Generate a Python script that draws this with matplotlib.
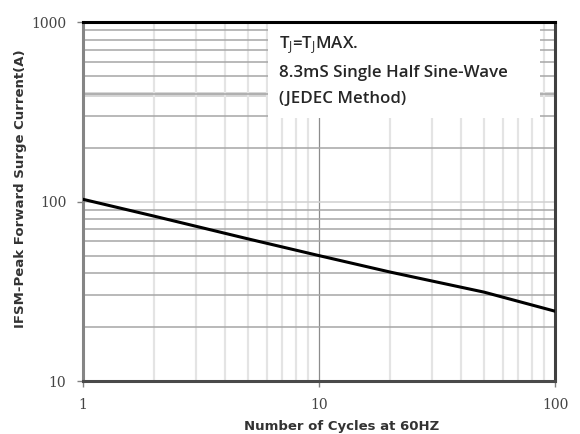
import matplotlib
matplotlib.use("Agg")
import matplotlib.pyplot as plt
from matplotlib.patches import Rectangle
from matplotlib.ticker import LogLocator, NullFormatter

cycles = [1, 2, 5, 10, 20, 50, 100]
current = [103, 83, 62, 50, 40.5, 31.3, 24.5]

x_ticks = [1, 10, 100]
x_tick_labels = ["1", "10", "100"]
y_ticks = [10, 100, 1000]
y_tick_labels = ["10", "100", "1000"]

annotation_lines = [r"T$_J$=T$_J$MAX.", "8.3mS Single Half Sine-Wave", "(JEDEC Method)"]
x_label = "Number of Cycles at 60HZ"
y_label = "IFSM-Peak Forward Surge Current(A)"

plt.rcParams["mathtext.fontset"] = "custom"
plt.rcParams["mathtext.rm"] = "Open Sans"
plt.rcParams["mathtext.it"] = "Open Sans"

fig = plt.figure(figsize=(5.8, 4.34), dpi=100)
ax = fig.add_axes([0.143, 0.122, 0.814, 0.827])
ax.set_xscale("log")
ax.set_yscale("log")
ax.set_xlim(1, 100)
ax.set_ylim(10, 1000)

# grid lines
ax.xaxis.set_minor_locator(LogLocator(base=10, subs=range(2, 10)))
ax.yaxis.set_minor_locator(LogLocator(base=10, subs=range(2, 10)))
ax.xaxis.set_minor_formatter(NullFormatter())
ax.yaxis.set_minor_formatter(NullFormatter())
ax.grid(True, which="minor", axis="x", color="#e4e4e4", linewidth=1.6, zorder=0)
ax.grid(True, which="major", axis="x", color="#8c8c8c", linewidth=0.9, zorder=0)
ax.grid(True, which="minor", axis="y", color="#a6a6a6", linewidth=1.1, zorder=0)
ax.grid(True, which="major", axis="y", color="#d0d0d0", linewidth=1.1, zorder=0)
ax.axhline(400, color="#d4d4d4", linewidth=3.5, zorder=0.5)
ax.set_axisbelow(True)

ax.plot(cycles, current, color="black", linewidth=2.2, zorder=3)

# annotation box covering grid
ax.add_patch(Rectangle((0.392, 0.733), 0.576, 0.262, transform=ax.transAxes,
                       facecolor="white", edgecolor="none", zorder=2))
ys = [0.936, 0.858, 0.786]
for t, yy in zip(annotation_lines, ys):
    ax.text(0.415, yy, t, transform=ax.transAxes, fontsize=12.2, family="Open Sans",
            fontweight="semibold", color="#262626", va="center", ha="left", zorder=4)

ax.set_xticks(x_ticks)
ax.set_xticklabels(x_tick_labels)
ax.set_yticks(y_ticks)
ax.set_yticklabels(y_tick_labels)
ax.tick_params(which="minor", length=0)
ax.tick_params(which="major", length=4, width=1, color="#808080", direction="out",
               labelsize=10, pad=8)
for lab in ax.get_xticklabels() + ax.get_yticklabels():
    lab.set_family("DejaVu Serif")
    lab.set_color("#444444")

ax.spines["left"].set_color("#858585")
ax.spines["left"].set_linewidth(2.2)
ax.spines["bottom"].set_color("#4a4a4a")
ax.spines["bottom"].set_linewidth(2.2)
ax.spines["top"].set_color("black")
ax.spines["top"].set_linewidth(2.2)
ax.spines["right"].set_color("#404040")
ax.spines["right"].set_linewidth(2.2)

xl = ax.set_xlabel(x_label, fontsize=9.5, fontweight="bold", color="#333333")
yl = ax.set_ylabel(y_label, fontsize=9.5, fontweight="bold", color="#333333")
ax.xaxis.set_label_coords(0.547, -0.128)
ax.yaxis.set_label_coords(-0.133, 0.535)
xl.set_verticalalignment("center")
yl.set_verticalalignment("center")

fig.savefig("out.png", dpi=100)
